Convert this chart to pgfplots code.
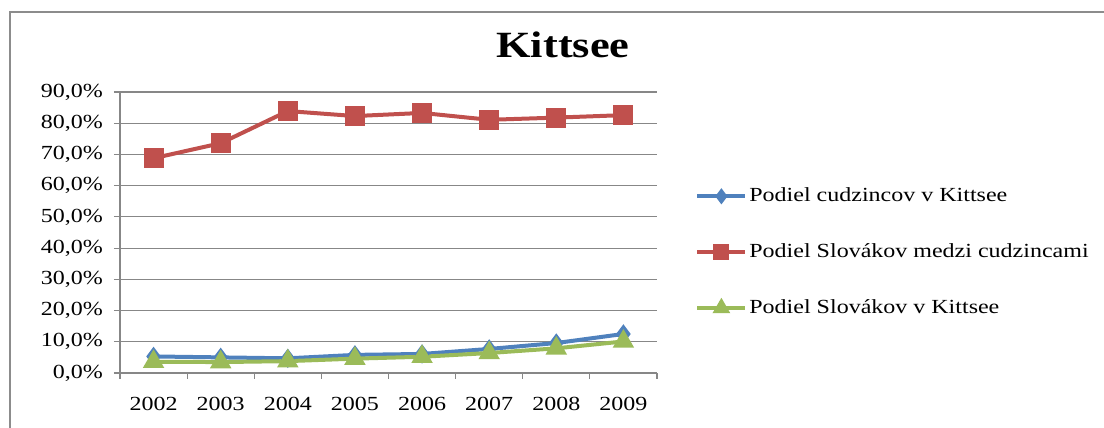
\documentclass[border=0pt]{standalone}
\usepackage{fontspec}
\setmainfont[FakeStretch=1.2]{Liberation Serif}
\usepackage{pgfplots}
\pgfplotsset{compat=1.18}

\definecolor{xlblue}{HTML}{4F81BD}
\definecolor{xlred}{HTML}{C0504D}
\definecolor{xlgreen}{HTML}{9BBB59}
\definecolor{gridgray}{HTML}{878787}
\definecolor{framegray}{HTML}{8C8C8C}

\begin{document}
\begin{tikzpicture}
% picture is 1104x428 px at 0.5pt per px
\useasboundingbox (0pt,0pt) rectangle (552pt,214pt);
\draw[framegray, line width=1pt] (5pt,-1pt) -- (5pt,208pt) -- (553pt,208pt);

\begin{axis}[
  at={(60pt,27.5pt)}, anchor=south west,
  scale only axis, width=268.5pt, height=140.5pt,
  xmin=-0.5, xmax=7.5, ymin=0, ymax=90,
  axis x line*=bottom, axis y line*=left,
  axis line style={gridgray, line width=0.8pt, -},
  xtick={0,...,7},
  xticklabels={2002,2003,2004,2005,2006,2007,2008,2009},
  minor xtick={-0.5,0.5,...,7.5},
  major x tick style={draw=none},
  minor tick length=3pt, major tick length=3pt,
  tick align=outside,
  tick style={gridgray, line width=0.6pt},
  ytick={0,10,...,90},
  yticklabels={{0,0\%},{10,0\%},{20,0\%},{30,0\%},{40,0\%},{50,0\%},{60,0\%},{70,0\%},{80,0\%},{90,0\%}},
  ymajorgrids, grid style={gridgray, line width=0.6pt},
  tick label style={font=\fontsize{10}{12}\selectfont},
  xticklabel style={yshift=-5.5pt},
  yticklabel style={xshift=-2pt},
  title={\textbf{Kittsee}},
  title style={at={(0.825,1.125)}, anchor=center, font=\fontsize{18.5}{20}\selectfont},
  legend style={at={(1.0596,0.43)}, anchor=west, draw=none, fill=none,
    font=\fontsize{10}{12}\selectfont, row sep=17.5pt,
    nodes={inner sep=1pt}},
  legend cell align=left,
  legend image code/.code={\draw[mark repeat=2,mark phase=2,#1,mark options={scale=0.75}] plot coordinates {(0pt,0pt) (12pt,0pt) (24pt,0pt)};},
  every axis plot/.append style={line width=2pt},
]
\addplot[xlblue, mark=diamond*, mark size=3.2pt, mark options={solid}] coordinates {
  (0,5.3) (1,5.0) (2,4.7) (3,5.8) (4,6.1) (5,7.7) (6,9.6) (7,12.5)
};
\addlegendentry{Podiel cudzincov v Kittsee}
\addplot[xlred, mark=square*, mark size=4pt, mark options={solid}] coordinates {
  (0,68.8) (1,73.6) (2,83.9) (3,82.3) (4,83.3) (5,81.1) (6,81.8) (7,82.6)
};
\addlegendentry{Podiel Slovákov medzi cudzincami}
\addplot[xlgreen, mark=triangle*, mark size=4.2pt, mark options={solid}] coordinates {
  (0,3.6) (1,3.5) (2,3.8) (3,4.6) (4,5.2) (5,6.4) (6,7.9) (7,10.1)
};
\addlegendentry{Podiel Slovákov v Kittsee}
\end{axis}
\end{tikzpicture}
\end{document}
